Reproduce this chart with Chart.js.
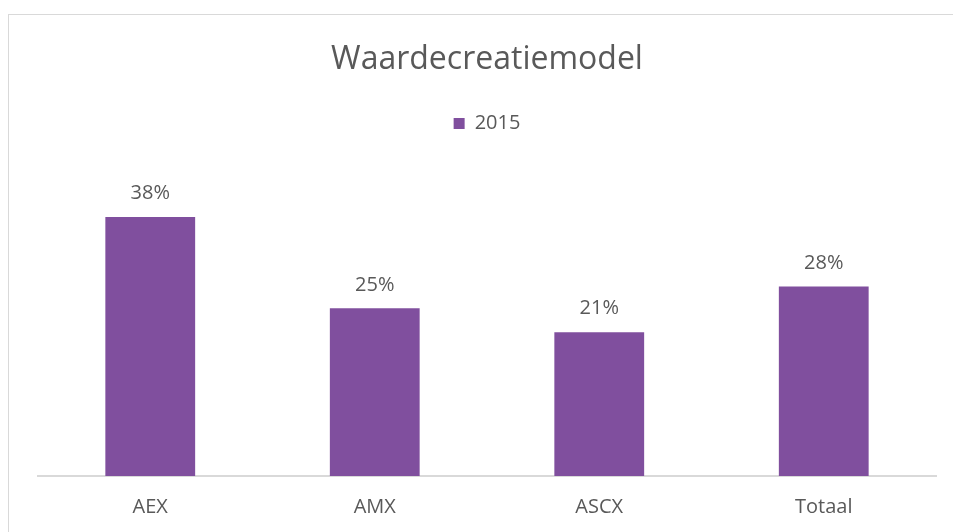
<!DOCTYPE html>
<html>
<head>
<meta charset="utf-8">
<script src="https://cdn.jsdelivr.net/npm/chart.js@4"></script>
<style>
  html, body { margin: 0; padding: 0; background: #ffffff; overflow: hidden; width: 953px; height: 532px; }
  #frame { position: absolute; left: 8px; top: 14px; width: 956px; height: 540px; border: 1px solid #d9d9d9; background: #fff; }
  #wrap { position: absolute; left: 0; top: 0; width: 956px; height: 523px; }
</style>
</head>
<body>
<div id="frame"><div id="wrap"><canvas id="c"></canvas></div></div>
<script>
const categories = ['AEX', 'AMX', 'ASCX', 'Totaal'];
const seriesName = '2015';
const values = [38.0, 24.6, 21.1, 27.8];
const chartTitle = 'Waardecreatiemodel';

const FONT = '"Open Sans", sans-serif';
const TEXT = '#595959';
const PURPLE = '#804F9E';

const valueLabels = {
  id: 'valueLabels',
  afterDatasetsDraw(chart) {
    const ctx = chart.ctx;
    ctx.save();
    ctx.font = '20px ' + FONT;
    ctx.fillStyle = TEXT;
    ctx.textAlign = 'center';
    ctx.textBaseline = 'middle';
    chart.getDatasetMeta(0).data.forEach((bar, i) => {
      const v = chart.data.datasets[0].data[i];
      ctx.fillText(Math.round(v) + '%', bar.x, bar.y - 23.5);
    });
    ctx.restore();
  }
};

new Chart(document.getElementById('c'), {
  type: 'bar',
  data: {
    labels: categories,
    datasets: [{
      label: seriesName,
      data: values,
      backgroundColor: PURPLE,
      borderWidth: 0,
      barPercentage: 0.4,
      categoryPercentage: 1.0
    }]
  },
  options: {
    responsive: true,
    maintainAspectRatio: false,
    animation: false,
    layout: { padding: { left: 29, right: 29, top: 0, bottom: 0 } },
    plugins: {
      title: {
        display: true,
        text: chartTitle,
        color: TEXT,
        font: { family: FONT, size: 32, weight: 'normal' },
        padding: { top: 25.5, bottom: 24.5 }
      },
      legend: {
        display: true,
        position: 'top',
        labels: {
          color: TEXT,
          font: { family: FONT, size: 20 },
          boxWidth: 11,
          boxHeight: 11,
          padding: 10
        }
      },
      tooltip: { enabled: false }
    },
    scales: {
      x: {
        grid: { display: false, drawTicks: false },
        border: { display: true, color: '#d9d9d9', width: 2 },
        ticks: { color: TEXT, font: { family: FONT, size: 20 }, padding: 19 }
      },
      y: {
        display: false,
        min: 0,
        max: 48.8
      }
    }
  },
  plugins: [valueLabels]
});
</script>
</body>
</html>
